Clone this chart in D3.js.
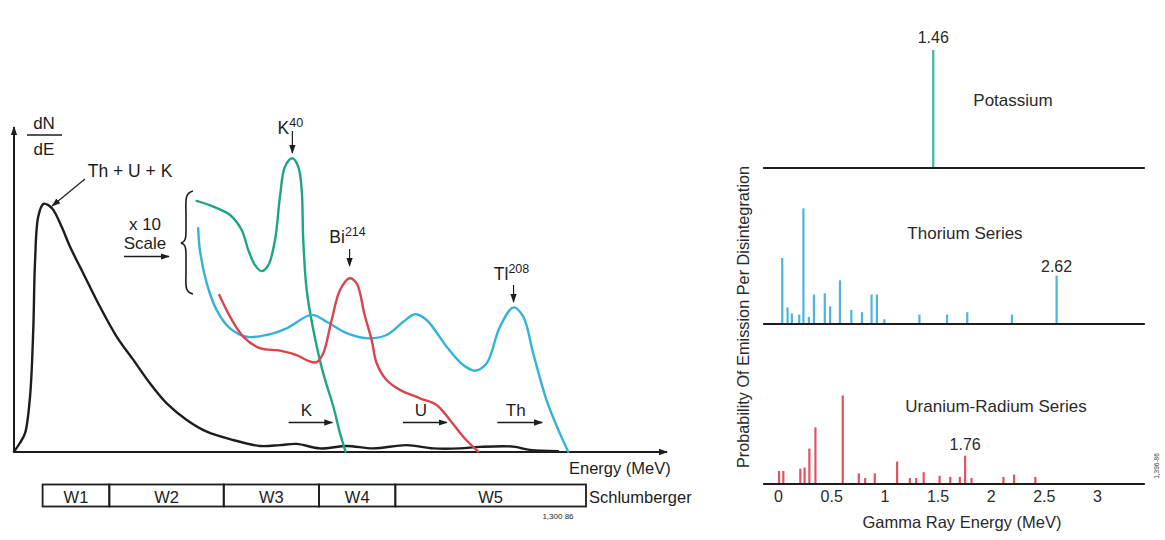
<!DOCTYPE html>
<html>
<head>
<meta charset="utf-8">
<script src="https://cdn.jsdelivr.net/npm/d3@7"></script>
<style>
  html, body { margin: 0; padding: 0; background: #fff; }
  svg { display: block; font-family: "Liberation Sans", Arial, Helvetica, sans-serif; }
</style>
</head>
<body>
<svg id="chart" width="1165" height="540"></svg>
<script>
// ---------- Detector spectrum (left): energy in MeV, relative counts ----------
const totalSpectrum = [
  [0, 0.1], [0.031, 3], [0.058, 6.3], [0.084, 18.4], [0.101, 40.7], [0.110, 62.9],
  [0.127, 78.4], [0.154, 82.7], [0.180, 82.3], [0.206, 80.7], [0.250, 75.1],
  [0.294, 68.4], [0.363, 59.6], [0.451, 48.4], [0.539, 38.4], [0.626, 30.7],
  [0.713, 22.9], [0.801, 16.2], [0.906, 10.7], [1.011, 6.8], [1.150, 4],
  [1.290, 2], [1.395, 2.3], [1.482, 2.7], [1.605, 1.2], [1.745, 2], [1.884, 1.2],
  [2.059, 2.3], [2.199, 1.2], [2.339, 1.2], [2.444, 1.7], [2.618, 1.8],
  [2.706, 0.7], [2.853, 0.3]
];
const potassiumSpectrum = [
  [0.958, 83.7], [1.045, 81.8], [1.133, 79], [1.194, 74], [1.229, 67.3],
  [1.264, 62.3], [1.299, 60.3], [1.334, 62.3], [1.369, 70.7], [1.395, 85.1],
  [1.421, 95.1], [1.46, 97.9], [1.491, 95.1], [1.509, 87.3], [1.517, 70.7],
  [1.535, 54], [1.570, 40.7], [1.622, 26.2], [1.675, 15.1], [1.710, 6.2], [1.739, 0.1]
];
const thoriumSpectrum = [
  [0.966, 74.6], [0.975, 67.3], [1.011, 56.2], [1.063, 47.3], [1.133, 41.2],
  [1.220, 38.4], [1.325, 39], [1.430, 41.2], [1.561, 45.7], [1.640, 43.4],
  [1.745, 39.6], [1.850, 37.9], [1.954, 39], [2.042, 43.4], [2.103, 45.9],
  [2.164, 44], [2.269, 35.1], [2.356, 29], [2.418, 27.1], [2.479, 29.6],
  [2.549, 41.8], [2.62, 48.2], [2.671, 45.1], [2.723, 32.9], [2.793, 17.3],
  [2.863, 6.2], [2.907, 0.1]
];
const uraniumSpectrum = [
  [1.077, 52.3], [1.133, 45.1], [1.203, 38.4], [1.290, 34.6], [1.395, 33.8],
  [1.482, 32.3], [1.543, 30.4], [1.587, 29.9], [1.622, 32.9], [1.666, 44],
  [1.710, 54], [1.76, 57.9], [1.797, 56.2], [1.840, 45.4], [1.876, 37.3],
  [1.902, 29.6], [1.954, 24], [2.024, 20.7], [2.129, 17.9], [2.216, 15.7],
  [2.286, 10.7], [2.356, 5.1], [2.435, 0.1]
];

// Schlumberger energy windows
const windowEdges = [0.15, 0.5, 1.1, 1.6, 2.0, 3.0];
const windowLabels = ["W1", "W2", "W3", "W4", "W5"];

// ---------- Emission lines (right): energy in MeV, relative probability ----------
const potassiumLines = [[1.46, 100]];
const thoriumLines = [
  [0.04, 56], [0.09, 14], [0.13, 9], [0.20, 8], [0.239, 98], [0.29, 6],
  [0.338, 25], [0.44, 26], [0.49, 15], [0.583, 37], [0.69, 12], [0.79, 10],
  [0.88, 25], [0.93, 25], [1.00, 4], [1.33, 8], [1.59, 8], [1.78, 10],
  [2.20, 8], [2.62, 41]
];
const uraniumLines = [
  [0.01, 11], [0.05, 11], [0.21, 13], [0.25, 14], [0.295, 30], [0.352, 48],
  [0.609, 75], [0.76, 9], [0.82, 5], [0.91, 9], [1.12, 19], [1.24, 5],
  [1.30, 5], [1.37, 10], [1.52, 7], [1.62, 6], [1.71, 6], [1.76, 24],
  [1.82, 5], [2.12, 6], [2.22, 8], [2.42, 6]
];
const gammaTicks = [0, 0.5, 1, 1.5, 2, 2.5, 3];

// ---------- Colours ----------
const cK = "#1ea585", cTh = "#35b2d6", cU = "#d9444d";
const cKbar = "#35bba3", cThBar = "#4ab6dc", cUBar = "#e0545f";
const ink = "#1d1d1d";
const grey = "#2a2a2a";

const svg = d3.select("#chart");
svg.append("rect").attr("width", 1165).attr("height", 540).attr("fill", "#fff");

const defs = svg.append("defs");
defs.append("marker").attr("id", "head")
  .attr("viewBox", "0 0 10 10").attr("refX", 9).attr("refY", 5)
  .attr("markerWidth", 9).attr("markerHeight", 9).attr("markerUnits", "userSpaceOnUse")
  .attr("orient", "auto")
  .append("path").attr("d", "M0,1.5 L10,5 L0,8.5 Z").attr("fill", ink);

// ================= Left: detector response =================
const eL = d3.scaleLinear().domain([0, 3]).range([14, 586]);
const cL = d3.scaleLinear().domain([0, 100]).range([452, 152]);

const left = svg.append("g");

// axes with arrow tips
left.append("line")
  .attr("x1", eL(0)).attr("y1", cL(0)).attr("x2", eL(0)).attr("y2", 127)
  .attr("stroke", ink).attr("stroke-width", 2).attr("marker-end", "url(#head)");
left.append("line")
  .attr("x1", eL(0)).attr("y1", cL(0)).attr("x2", eL(3.425)).attr("y2", cL(0))
  .attr("stroke", ink).attr("stroke-width", 2).attr("marker-end", "url(#head)");

const curve = d3.line()
  .x(d => eL(d[0])).y(d => cL(d[1]))
  .curve(d3.curveCatmullRom.alpha(0.5));

[[totalSpectrum, ink], [potassiumSpectrum, cK], [thoriumSpectrum, cTh], [uraniumSpectrum, cU]]
  .forEach(([data, col]) => {
    left.append("path").datum(data).attr("d", curve)
      .attr("fill", "none").attr("stroke", col).attr("stroke-width", 2.4)
      .attr("stroke-linejoin", "round").attr("stroke-linecap", "round");
  });

// dN/dE label
left.append("text").attr("x", 44).attr("y", 129).attr("text-anchor", "middle")
  .attr("font-size", 17).attr("fill", ink).text("dN");
left.append("line").attr("x1", 27).attr("x2", 62).attr("y1", 135).attr("y2", 135)
  .attr("stroke", ink).attr("stroke-width", 1.3);
left.append("text").attr("x", 44).attr("y", 155).attr("text-anchor", "middle")
  .attr("font-size", 17).attr("fill", ink).text("dE");

// Th + U + K callout
left.append("text").attr("x", 130).attr("y", 177).attr("text-anchor", "middle")
  .attr("font-size", 17.5).attr("fill", ink).text("Th + U + K");
left.append("line").attr("x1", 85).attr("y1", 179).attr("x2", eL(0.2)).attr("y2", cL(82))
  .attr("stroke", ink).attr("stroke-width", 1.2).attr("marker-end", "url(#head)");

// x 10 Scale with brace
left.append("text").attr("x", 145).attr("y", 230).attr("text-anchor", "middle")
  .attr("font-size", 17).attr("fill", ink).text("x 10");
left.append("text").attr("x", 145).attr("y", 249).attr("text-anchor", "middle")
  .attr("font-size", 17).attr("fill", ink).text("Scale");
left.append("line").attr("x1", 124).attr("y1", 256.5).attr("x2", 169).attr("y2", 256.5)
  .attr("stroke", ink).attr("stroke-width", 1.3).attr("marker-end", "url(#head)");
left.append("path")
  .attr("d", "M193,191 C184,193 186,203 186,215 L186,232 C186,239 185,242 181,243 " +
             "C185,244 186,247 186,254 L186,272 C186,284 184,292 193,294")
  .attr("fill", "none").attr("stroke", ink).attr("stroke-width", 1.6);

// peak labels with superscripts and down arrows
function peakLabel(base, sup, e, textY, arrowTop, arrowBot) {
  const x = eL(e);
  const t = left.append("text").attr("x", x - 2).attr("y", textY)
    .attr("text-anchor", "middle").attr("fill", ink).attr("font-size", 17.5);
  t.append("tspan").text(base);
  t.append("tspan").attr("font-size", 12.5).attr("dy", -7).text(sup);
  left.append("line").attr("x1", x).attr("x2", x).attr("y1", arrowTop).attr("y2", arrowBot)
    .attr("stroke", ink).attr("stroke-width", 1.2).attr("marker-end", "url(#head)");
}
peakLabel("K", "40", 1.46, 134, 131, 153);
peakLabel("Bi", "214", 1.76, 243, 249, 266);
peakLabel("Tl", "208", 2.62, 280, 285, 302);

// window arrows K, U, Th
[["K", 1.44, 1.67], ["U", 2.04, 2.27], ["Th", 2.535, 2.77]].forEach(([lab, a, b]) => {
  left.append("text").attr("x", (eL(a) + eL(b)) / 2 - 4).attr("y", 416)
    .attr("text-anchor", "middle").attr("font-size", 17).attr("fill", ink).text(lab);
  left.append("line").attr("x1", eL(a)).attr("x2", eL(b)).attr("y1", 422.5).attr("y2", 422.5)
    .attr("stroke", ink).attr("stroke-width", 1.3).attr("marker-end", "url(#head)");
});

left.append("text").attr("x", 569).attr("y", 474).attr("font-size", 16.5).attr("fill", ink)
  .text("Energy (MeV)");

// Schlumberger windows box
const win = left.append("g");
windowLabels.forEach((lab, i) => {
  const x0 = eL(windowEdges[i]), x1 = eL(windowEdges[i + 1]);
  win.append("rect").attr("x", x0).attr("y", 484.5).attr("width", x1 - x0).attr("height", 22)
    .attr("fill", "none").attr("stroke", ink).attr("stroke-width", 1.8);
  win.append("text").attr("x", (x0 + x1) / 2).attr("y", 503).attr("text-anchor", "middle")
    .attr("font-size", 16.5).attr("fill", ink).text(lab);
});
left.append("text").attr("x", 589).attr("y", 502.5).attr("font-size", 16.5).attr("fill", ink)
  .text("Schlumberger");
left.append("text").attr("x", 558).attr("y", 519).attr("text-anchor", "middle")
  .attr("font-size", 8).attr("fill", ink).text("1,300 86");

// ================= Right: emission lines =================
const eR = d3.scaleLinear().domain([0, 3]).range([778, 1097]);
const pR = d3.scaleLinear().domain([0, 100]).range([0, 118]);

const right = svg.append("g");
const panels = [
  { lines: potassiumLines, base: 168, color: cKbar, title: "Potassium", tx: 1013, ty: 106,
    note: "1.46", noteE: 1.46, ny: 43 },
  { lines: thoriumLines, base: 324, color: cThBar, title: "Thorium Series", tx: 965, ty: 239,
    note: "2.62", noteE: 2.62, ny: 272 },
  { lines: uraniumLines, base: 484, color: cUBar, title: "Uranium-Radium Series", tx: 996, ty: 412,
    note: "1.76", noteE: 1.76, ny: 450 }
];

panels.forEach(p => {
  const g = right.append("g");
  g.selectAll("line.bar").data(p.lines).join("line").attr("class", "bar")
    .attr("x1", d => eR(d[0])).attr("x2", d => eR(d[0]))
    .attr("y1", p.base).attr("y2", d => p.base - pR(d[1]))
    .attr("stroke", p.color).attr("stroke-width", 2.2);
  g.append("line").attr("x1", eR(-0.14)).attr("x2", eR(3.45))
    .attr("y1", p.base).attr("y2", p.base).attr("stroke", ink).attr("stroke-width", 2);
  g.append("text").attr("x", p.tx).attr("y", p.ty).attr("text-anchor", "middle")
    .attr("font-size", 17).attr("fill", grey).text(p.title);
  g.append("text").attr("x", eR(p.noteE)).attr("y", p.ny).attr("text-anchor", "middle")
    .attr("font-size", 16).attr("fill", grey).text(p.note);
});

// energy axis under the uranium panel
const axis = d3.axisBottom(eR).tickValues(gammaTicks).tickSize(0).tickPadding(7)
  .tickFormat(d3.format("~g"));
const ax = right.append("g").attr("transform", "translate(0,484)").call(axis);
ax.select(".domain").remove();
ax.selectAll("text").attr("font-size", 16).attr("fill", grey)
  .attr("font-family", "\"Liberation Sans\", Arial, sans-serif");

right.append("text").attr("x", 962).attr("y", 528).attr("text-anchor", "middle")
  .attr("font-size", 16.5).attr("fill", grey).text("Gamma Ray Energy (MeV)");

right.append("text")
  .attr("transform", "translate(749,317) rotate(-90)")
  .attr("text-anchor", "middle").attr("font-size", 16.3).attr("fill", grey)
  .text("Probability Of Emission Per Disintegration");

right.append("text")
  .attr("transform", "translate(1159,466) rotate(-90)")
  .attr("text-anchor", "middle").attr("font-size", 6.5).attr("fill", "#444")
  .text("1,396-86");
</script>
</body>
</html>
